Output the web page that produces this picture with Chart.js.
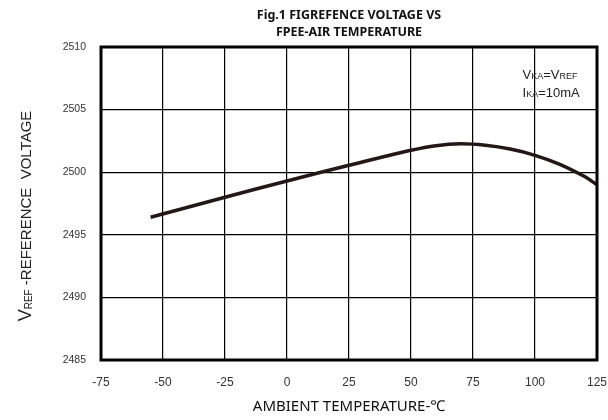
<!DOCTYPE html>
<html>
<head>
<meta charset="utf-8">
<script src="https://cdn.jsdelivr.net/npm/chart.js@4"></script>
<style>
  html, body { margin: 0; padding: 0; background: #fff; }
  #wrap { width: 608px; height: 420px; }
</style>
</head>
<body>
<div id="wrap"><canvas id="chart" width="608" height="420"></canvas></div>
<script>
// temperature (°C) and reference voltage (mV)
const temps = [-55, -25, 0, 25, 50, 60, 70, 80, 90, 100, 110, 120, 125];
const vref = [2496.4, 2498.0, 2499.3, 2500.55, 2501.75, 2502.12, 2502.27, 2502.15, 2501.85, 2501.35, 2500.63, 2499.65, 2499.0];
const xTicks = [-75, -50, -25, 0, 25, 50, 75, 100, 125];
const yTicks = [2485, 2490, 2495, 2500, 2505, 2510];
const titleLines = ['Fig.1 FIGREFENCE VOLTAGE VS', 'FPEE-AIR TEMPERATURE'];

const sansKR = '"Noto Sans", "Noto Sans CJK KR", sans-serif';
const arial = '"Liberation Sans", Arial, sans-serif';

// draws text with a smaller subscript part, returns end x
function subText(ctx, x, y, parts) {
  parts.forEach(p => {
    ctx.font = p.font;
    ctx.fillText(p.t, x, y + (p.dy || 0));
    x += ctx.measureText(p.t).width;
  });
  return x;
}

const decor = {
  id: 'decor',
  afterDatasetsDraw(chart) {
    const { ctx, chartArea: a, scales } = chart;
    ctx.save();
    // thick frame
    ctx.strokeStyle = '#000';
    ctx.lineWidth = 3;
    ctx.strokeRect(a.left, a.top, a.right - a.left, a.bottom - a.top);

    // title
    ctx.fillStyle = '#111';
    ctx.textAlign = 'center';
    ctx.textBaseline = 'middle';
    ctx.font = 'bold 12.5px ' + sansKR;
    const cx = (a.left + a.right) / 2;
    ctx.fillText(titleLines[0], cx, 15);
    ctx.fillText(titleLines[1], cx, 32);

    // x axis title
    ctx.font = '15px ' + sansKR;
    ctx.fillText('AMBIENT TEMPERATURE-\u2103', cx, 407);

    // y axis title with subscript
    ctx.save();
    ctx.translate(31, 216);
    ctx.rotate(-Math.PI / 2);
    ctx.textAlign = 'left';
    ctx.textBaseline = 'alphabetic';
    ctx.fillStyle = '#222';
    const parts = [
      { t: 'V', font: '18px ' + arial },
      { t: 'REF', font: '10px ' + arial, dy: 1 },
      { t: ' -REFERENCE  VOLTAGE', font: '15px ' + arial }
    ];
    let w = 0;
    parts.forEach(p => { ctx.font = p.font; w += ctx.measureText(p.t).width; });
    subText(ctx, -w / 2, 0, parts);
    ctx.restore();

    // condition note
    ctx.textAlign = 'left';
    ctx.textBaseline = 'alphabetic';
    ctx.fillStyle = '#222';
    const nx = scales.x.getPixelForValue(95);
    subText(ctx, nx, 79, [
      { t: 'V', font: '13px ' + arial },
      { t: 'KA', font: '9px ' + arial },
      { t: '=V', font: '13px ' + arial },
      { t: 'REF', font: '9px ' + arial }
    ]);
    subText(ctx, nx, 97, [
      { t: 'I', font: '13px ' + arial },
      { t: 'KA', font: '9px ' + arial },
      { t: '=10mA', font: '13px ' + arial }
    ]);
    ctx.restore();
  }
};

new Chart(document.getElementById('chart'), {
  type: 'line',
  data: {
    datasets: [{
      data: temps.map((t, i) => ({ x: t, y: vref[i] })),
      borderColor: '#231815',
      borderWidth: 3.5,
      pointRadius: 0,
      tension: 0.35,
      fill: false
    }]
  },
  options: {
    responsive: false,
    animation: false,
    layout: { padding: { top: 47, right: 11, left: 0, bottom: 0 } },
    plugins: { legend: { display: false }, tooltip: { enabled: false } },
    scales: {
      x: {
        type: 'linear',
        min: -75,
        max: 125,
        afterBuildTicks: s => { s.ticks = xTicks.map(v => ({ value: v })); },
        afterFit: s => { s.height = 60; s.paddingLeft = 0; s.paddingRight = 0; },
        grid: { color: '#000', lineWidth: 1.2, drawTicks: false },
        border: { display: false },
        ticks: { color: '#333', padding: 15, font: { family: arial, size: 12 }, callback: v => String(v) }
      },
      y: {
        min: 2485,
        max: 2510,
        afterBuildTicks: s => { s.ticks = yTicks.map(v => ({ value: v })); },
        afterFit: s => { s.width = 101; s.paddingTop = 0; s.paddingBottom = 0; },
        grid: { color: '#000', lineWidth: 1.2, drawTicks: false },
        border: { display: false },
        ticks: { color: '#333', padding: 15, font: { family: arial, size: 10.5 }, callback: v => String(v) }
      }
    }
  },
  plugins: [decor]
});
</script>
</body>
</html>
